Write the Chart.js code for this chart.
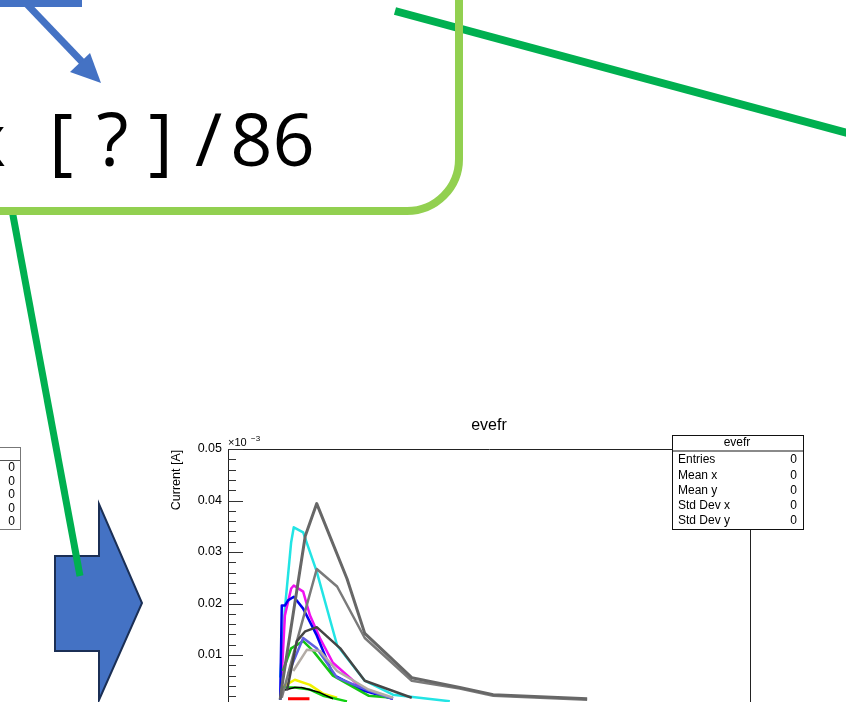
<!DOCTYPE html>
<html>
<head>
<meta charset="utf-8">
<script src="https://cdn.jsdelivr.net/npm/chart.js@4.4.1/dist/chart.umd.min.js"></script>
<style>
  html, body { margin: 0; padding: 0; background: #fff; overflow: hidden; }
  #evefr { display: block; }
</style>
</head>
<body>
<canvas id="evefr" width="846" height="720"></canvas>
<script>
// time (arbitrary units) and current (x10^-3 A) for each pulse
const grayAT = [10.0, 10.3, 14.8, 17.0, 22.8, 26.2, 35.2, 44.4, 50.8, 68.8];
const grayAI = [0.0013, 0.0037, 0.0331, 0.0394, 0.0248, 0.0142, 0.0056, 0.0037, 0.0023, 0.0015];
const grayBT = [10.3, 13.2, 17.0, 20.9, 26.2, 35.2, 44.4, 50.8, 68.8];
const grayBI = [0.0017, 0.0127, 0.0267, 0.0233, 0.0133, 0.0050, 0.0035, 0.0021, 0.0013];
const darkT = [11.3, 13.2, 14.8, 17.0, 21.5, 26.2, 35.2];
const darkI = [0.0031, 0.0127, 0.0146, 0.0154, 0.0113, 0.0050, 0.0017];
const cyanT = [10.0, 10.9, 12.1, 12.6, 14.4, 17.0, 20.9, 26.2, 31.6, 42.5];
const cyanI = [0.0056, 0.0190, 0.0319, 0.0348, 0.0338, 0.0262, 0.0119, 0.0050, 0.0023, 0.0010];
const magentaT = [10.3, 10.9, 12.1, 12.6, 14.4, 15.7, 17.6, 20.1, 25.9, 31.6];
const magentaI = [0.0060, 0.0177, 0.0229, 0.0235, 0.0223, 0.0177, 0.0133, 0.0085, 0.0033, 0.0015];
const blueT = [10.0, 10.3, 10.9, 11.5, 12.6, 14.4, 17.0, 20.1, 25.9, 31.6];
const blueI = [0.0013, 0.0196, 0.0196, 0.0206, 0.0213, 0.0190, 0.0138, 0.0062, 0.0031, 0.0015];
const slateT = [11.5, 14.4, 17.0, 20.9, 26.9, 31.6];
const slateI = [0.0062, 0.0133, 0.0113, 0.0056, 0.0031, 0.0015];
const greenT = [10.5, 12.1, 14.4, 16.3, 20.1, 26.9, 31.6];
const greenI = [0.0069, 0.0113, 0.0127, 0.0108, 0.0060, 0.0021, 0.0017];
const tanT = [12.5, 15.1, 17.6, 20.9, 26.9, 31.6];
const tanI = [0.0069, 0.0110, 0.0108, 0.0069, 0.0033, 0.0017];
const yellowT = [10.3, 12.8, 15.7, 18.2, 20.9];
const yellowI = [0.0037, 0.0052, 0.0042, 0.0025, 0.0017];
const green2T = [10.5, 12.8, 15.7, 18.2, 22.8];
const green2I = [0.0037, 0.0037, 0.0033, 0.0021, 0.0010];
const blackT = [10.5, 12.8, 14.1, 17.6, 20.1];
const blackI = [0.0031, 0.0037, 0.0037, 0.0027, 0.0015];
const redT = [11.5, 15.6];
const redI = [0.0015, 0.0015];

const yTicks = [0.01, 0.02, 0.03, 0.04, 0.05];
const statLabels = ['Entries', 'Mean x', 'Mean y', 'Std Dev x', 'Std Dev y'];
const statValues = ['0', '0', '0', '0', '0'];

function pts(t, i) {
    return t.map((v, k) => ({ x: v, y: i[k] }));
}

// first dataset is drawn on top
const datasets = [
    { data: pts(grayAT, grayAI), borderColor: '#676767', borderWidth: 3 },
    { data: pts(darkT, darkI), borderColor: '#454545', borderWidth: 2.5 },
    { data: pts(grayBT, grayBI), borderColor: '#7a7a7a', borderWidth: 2.5 },
    { data: pts(tanT, tanI), borderColor: '#b3aca6', borderWidth: 2.5 },
    { data: pts(slateT, slateI), borderColor: '#5f5fe0', borderWidth: 2.5 },
    { data: pts(greenT, greenI), borderColor: '#15c415', borderWidth: 2.5 },
    { data: pts(blueT, blueI), borderColor: '#0000f0', borderWidth: 2.5 },
    { data: pts(magentaT, magentaI), borderColor: '#f010f0', borderWidth: 2.5 },
    { data: pts(cyanT, cyanI), borderColor: '#22e4e4', borderWidth: 2.5 },
    { data: pts(blackT, blackI), borderColor: '#000000', borderWidth: 1.5 },
    { data: pts(green2T, green2I), borderColor: '#10d010', borderWidth: 2.5 },
    { data: pts(yellowT, yellowI), borderColor: '#f2f200', borderWidth: 2.5 },
    { data: pts(redT, redI), borderColor: '#ff0000', borderWidth: 3 }
];

const ROOT_FONT = '"Liberation Sans", Arial, sans-serif';

// slide decorations, ROOT frame and stats boxes
const decor = {
    id: 'decor',
    beforeDraw(chart) {
        const c = chart.ctx;
        c.save();
        c.fillStyle = '#fff';
        c.fillRect(0, 0, chart.width, chart.height);
        c.restore();
    },
    afterDraw(chart) {
        const c = chart.ctx;
        const a = chart.chartArea;
        const y = chart.scales.y;
        c.save();

        // frame
        c.strokeStyle = '#222';
        c.lineWidth = 1;
        c.beginPath();
        c.moveTo(a.left + 0.5, a.bottom);
        c.lineTo(a.left + 0.5, a.top + 0.5);
        c.lineTo(a.right + 0.5, a.top + 0.5);
        c.lineTo(a.right + 0.5, a.bottom);
        c.stroke();

        // ticks pointing into the frame
        c.strokeStyle = '#333';
        for (let k = 0; k <= 25; k++) {
            const v = k * 0.002;
            const py = Math.round(y.getPixelForValue(v)) + 0.5;
            const len = (k % 5 === 0) ? 15 : 8;
            c.beginPath();
            c.moveTo(a.left, py);
            c.lineTo(a.left + len, py);
            c.stroke();
        }

        // axis title and exponent
        c.fillStyle = '#000';
        c.font = '12.5px ' + ROOT_FONT;
        c.save();
        c.translate(180, 480);
        c.rotate(-Math.PI / 2);
        c.textAlign = 'center';
        c.textBaseline = 'alphabetic';
        c.fillText('Current [A]', 0, 0);
        c.restore();
        c.font = '11px ' + ROOT_FONT;
        c.textAlign = 'left';
        c.fillText('\u00d710', a.left, a.top - 3);
        c.font = '8px ' + ROOT_FONT;
        c.fillText('\u22123', a.left + 23, a.top - 8);

        // histogram title
        c.font = '16px ' + ROOT_FONT;
        c.textAlign = 'center';
        c.fillText('evefr', 489, 430);

        // stats box
        c.fillStyle = '#fff';
        c.fillRect(672, 435, 131, 94);
        c.strokeStyle = '#111';
        c.lineWidth = 1;
        c.strokeRect(672.5, 435.5, 131, 94);
        c.strokeStyle = '#8a8a8a';
        c.lineWidth = 2;
        c.beginPath();
        c.moveTo(673, 451);
        c.lineTo(803, 451);
        c.stroke();
        c.fillStyle = '#000';
        c.font = '12px ' + ROOT_FONT;
        c.textAlign = 'center';
        c.textBaseline = 'middle';
        c.fillText('evefr', 737, 443);
        statLabels.forEach((lab, k) => {
            const ry = 460 + k * 15.2;
            c.textAlign = 'left';
            c.fillText(lab, 678, ry);
            c.textAlign = 'right';
            c.fillText(statValues[k], 797, ry);
        });

        // left stats box, mostly off the slide
        c.strokeStyle = '#777';
        c.lineWidth = 1;
        c.strokeRect(-20.5, 447.5, 41, 82);
        c.strokeStyle = '#555';
        c.beginPath();
        c.moveTo(-20, 460.5);
        c.lineTo(20, 460.5);
        c.stroke();
        c.font = '12px ' + ROOT_FONT;
        c.textAlign = 'right';
        statValues.forEach((v, k) => c.fillText(v, 15, 468 + k * 13.5));

        // blue block arrow
        c.fillStyle = '#4472c4';
        c.strokeStyle = '#1b2f55';
        c.lineWidth = 2;
        c.lineJoin = 'miter';
        c.beginPath();
        c.moveTo(55, 556);
        c.lineTo(99, 556);
        c.lineTo(99, 504);
        c.lineTo(142, 603);
        c.lineTo(99, 700);
        c.lineTo(99, 651);
        c.lineTo(55, 651);
        c.closePath();
        c.fill();
        c.stroke();

        // top-left blue bar and arrow
        c.fillStyle = '#4472c4';
        c.fillRect(0, 0, 82, 7);
        c.strokeStyle = '#4472c4';
        c.lineWidth = 7;
        c.lineCap = 'butt';
        c.beginPath();
        c.moveTo(20, -3);
        c.lineTo(86, 66);
        c.stroke();
        c.beginPath();
        c.moveTo(101, 83);
        c.lineTo(70, 72);
        c.lineTo(90, 53);
        c.closePath();
        c.fill();

        // big slide text
        c.fillStyle = '#000';
        c.font = '74px "Open Sans", "Noto Sans", sans-serif';
        c.textBaseline = 'alphabetic';
        c.textAlign = 'right';
        c.fillText('x', 6, 166);
        c.textAlign = 'center';
        c.fillText('[', 61, 166);
        c.fillText('?', 112.5, 166);
        c.fillText(']', 160.5, 166);
        c.fillText('/', 208.5, 166);
        c.fillText('86', 272.5, 166);

        // dark green connectors
        c.strokeStyle = '#00b050';
        c.lineWidth = 8;
        c.beginPath();
        c.moveTo(395, 11);
        c.lineTo(870, 139);
        c.stroke();
        c.lineWidth = 7;
        c.beginPath();
        c.moveTo(12, 210);
        c.lineTo(80, 576);
        c.stroke();

        // light green rounded box
        c.strokeStyle = '#92d050';
        c.lineWidth = 8;
        c.beginPath();
        c.moveTo(-20, 211);
        c.lineTo(407, 211);
        c.arcTo(459, 211, 459, 159, 52);
        c.lineTo(459, -20);
        c.stroke();

        c.restore();
    }
};

const ctx = document.getElementById('evefr').getContext('2d');
new Chart(ctx, {
    type: 'line',
    data: {
        datasets: datasets.map(d => Object.assign({
            fill: false,
            pointRadius: 0,
            tension: 0,
            borderJoinStyle: 'round'
        }, d))
    },
    options: {
        responsive: false,
        animation: false,
        devicePixelRatio: 1,
        events: [],
        layout: { padding: { top: 449, right: 96, bottom: 11, left: 0 } },
        plugins: {
            legend: { display: false },
            tooltip: { enabled: false },
            title: { display: false }
        },
        scales: {
            x: { type: 'linear', min: 0, max: 100, display: false },
            y: {
                type: 'linear',
                min: 0,
                max: 0.05,
                afterFit: s => { s.width = 228; },
                grid: { display: false, drawTicks: false },
                border: { display: false },
                ticks: {
                    stepSize: 0.01,
                    autoSkip: false,
                    padding: 6,
                    color: '#000',
                    font: { family: ROOT_FONT, size: 12.5 },
                    callback: v => yTicks.some(t => Math.abs(t - v) < 1e-9) ? v.toFixed(2) : ''
                }
            }
        }
    },
    plugins: [decor]
});
</script>
</body>
</html>
